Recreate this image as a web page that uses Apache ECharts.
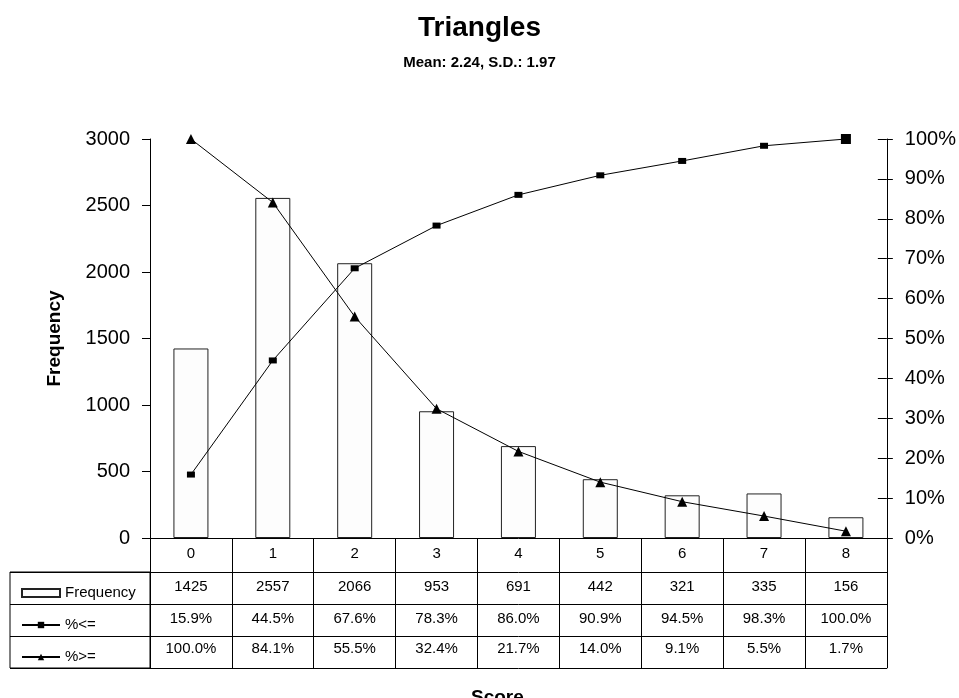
<!DOCTYPE html>
<html><head><meta charset="utf-8">
<script src="https://cdn.jsdelivr.net/npm/echarts@6/dist/echarts.min.js"></script>
<style>html,body{margin:0;padding:0;background:#fff}#c{width:959px;height:698px}</style>
</head><body><div id="c"></div>
<script>
const categories = ['0','1','2','3','4','5','6','7','8'];
const frequency = [1425, 2557, 2066, 953, 691, 442, 321, 335, 156];
const pctLE = [15.9, 44.5, 67.6, 78.3, 86.0, 90.9, 94.5, 98.3, 100.0];
const pctGE = [100.0, 84.1, 55.5, 32.4, 21.7, 14.0, 9.1, 5.5, 1.7];
const leftTicks = {min: 0, max: 3000, interval: 500};
const rightTicks = {min: 0, max: 100, interval: 10};

const FONT = '"Liberation Sans", Arial, sans-serif';
const chart = echarts.init(document.getElementById('c'), null, {renderer: 'canvas'});

function tableAxis(offset, labels, tickLen, margin) {
  return {
    type: 'category', gridIndex: 0, position: 'bottom', offset: offset,
    data: categories,
    axisLine: {show: true, onZero: false, lineStyle: {color: '#000', width: 1}},
    axisTick: {show: tickLen > 0, length: tickLen, interval: 0, lineStyle: {color: '#000'}},
    axisLabel: {show: !!labels, interval: 0, margin: margin, fontFamily: FONT, fontSize: 15, color: '#000',
      formatter: (v, i) => labels ? labels[i] : ''},
    splitLine: {show: false}
  };
}

const option = {
  backgroundColor: '#fff',
  animation: false,
  title: [{
    text: 'Triangles', subtext: 'Mean: 2.24, S.D.: 1.97',
    left: 'center', top: 9, itemGap: 13,
    textStyle: {fontFamily: FONT, fontSize: 28, fontWeight: 'bold', color: '#000'},
    subtextStyle: {fontFamily: FONT, fontSize: 15, fontWeight: 'bold', color: '#000'}
  }, {
    text: 'Score', left: 466, top: 683,
    textStyle: {fontFamily: FONT, fontSize: 19, fontWeight: 'bold', color: '#000'}
  }],
  legend: {
    orient: 'vertical', left: 16, top: 580, itemGap: 16,
    itemWidth: 38, itemHeight: 8,
    textStyle: {fontFamily: FONT, fontSize: 15, color: '#000', lineHeight: 16},
    data: [
      {name: 'Frequency', icon: 'rect'},
      {name: '%<='},
      {name: '%>='}
    ]
  },
  grid: [
    {left: 150, right: 71, top: 139, bottom: 160, containLabel: false},
    {left: 10, top: 572, width: 140, height: 96, show: true, borderColor: '#000', borderWidth: 1, backgroundColor: 'transparent'}
  ],
  xAxis: [
    tableAxis(0, categories, 34, 8),
    tableAxis(34, frequency.map(String), 32, 7),
    tableAxis(66, pctLE.map(v => v.toFixed(1) + '%'), 32, 7),
    tableAxis(98, pctGE.map(v => v.toFixed(1) + '%'), 32, 5),
    tableAxis(130, null, 0, 0),
    {type: 'value', gridIndex: 1, show: false}
  ],
  yAxis: [
    {
      type: 'value', gridIndex: 0, position: 'left',
      min: leftTicks.min, max: leftTicks.max, interval: leftTicks.interval,
      name: 'Frequency', nameLocation: 'middle', nameRotate: 90, nameGap: 86,
      nameMoveOverlap: false,
      nameTextStyle: {fontFamily: FONT, fontSize: 19, fontWeight: 'bold', color: '#000'},
      axisLine: {show: true, lineStyle: {color: '#000'}},
      axisTick: {show: true, length: 8, lineStyle: {color: '#000'}},
      axisLabel: {margin: 20, fontFamily: FONT, fontSize: 20, color: '#000', formatter: v => String(v)},
      splitLine: {show: false}
    },
    {
      type: 'value', gridIndex: 0, position: 'right',
      min: rightTicks.min, max: rightTicks.max, interval: rightTicks.interval,
      axisLine: {show: true, lineStyle: {color: '#000'}},
      axisTick: {show: true, length: 6, lineStyle: {color: '#000'}},
      axisLabel: {margin: 18, fontFamily: FONT, fontSize: 20, color: '#000', formatter: v => v + '%'},
      splitLine: {show: false}
    },
    {
      type: 'value', gridIndex: 0, position: 'right',
      min: rightTicks.min, max: rightTicks.max, interval: rightTicks.interval,
      axisLine: {show: false},
      axisTick: {show: true, inside: true, length: 9, lineStyle: {color: '#000'}},
      axisLabel: {show: false},
      splitLine: {show: false}
    },
    {
      type: 'category', gridIndex: 1, data: ['r1', 'r2', 'r3'],
      axisLine: {show: false}, axisTick: {show: false}, axisLabel: {show: false},
      splitLine: {show: true, interval: 0, lineStyle: {color: '#000', width: 1}}
    }
  ],
  series: [
    {
      name: 'Frequency', type: 'bar', xAxisIndex: 0, yAxisIndex: 0,
      data: frequency, barWidth: 35,
      itemStyle: {color: '#fdfdfd', borderColor: '#222', borderWidth: 1},
      z: 2
    },
    {
      name: '%<=', type: 'line', xAxisIndex: 0, yAxisIndex: 1,
      data: pctLE.map((v, i) => i === pctLE.length - 1 ? {value: v, symbolSize: 10} : v),
      symbol: 'rect', symbolSize: [8, 6],
      lineStyle: {color: '#000', width: 1},
      itemStyle: {color: '#000'},
      z: 5
    },
    {
      name: '%>=', type: 'line', xAxisIndex: 0, yAxisIndex: 1,
      data: pctGE, symbol: 'triangle', symbolSize: 10,
      lineStyle: {color: '#000', width: 1},
      itemStyle: {color: '#000'},
      z: 5
    }
  ]
};
chart.setOption(option);
</script>
</body></html>
